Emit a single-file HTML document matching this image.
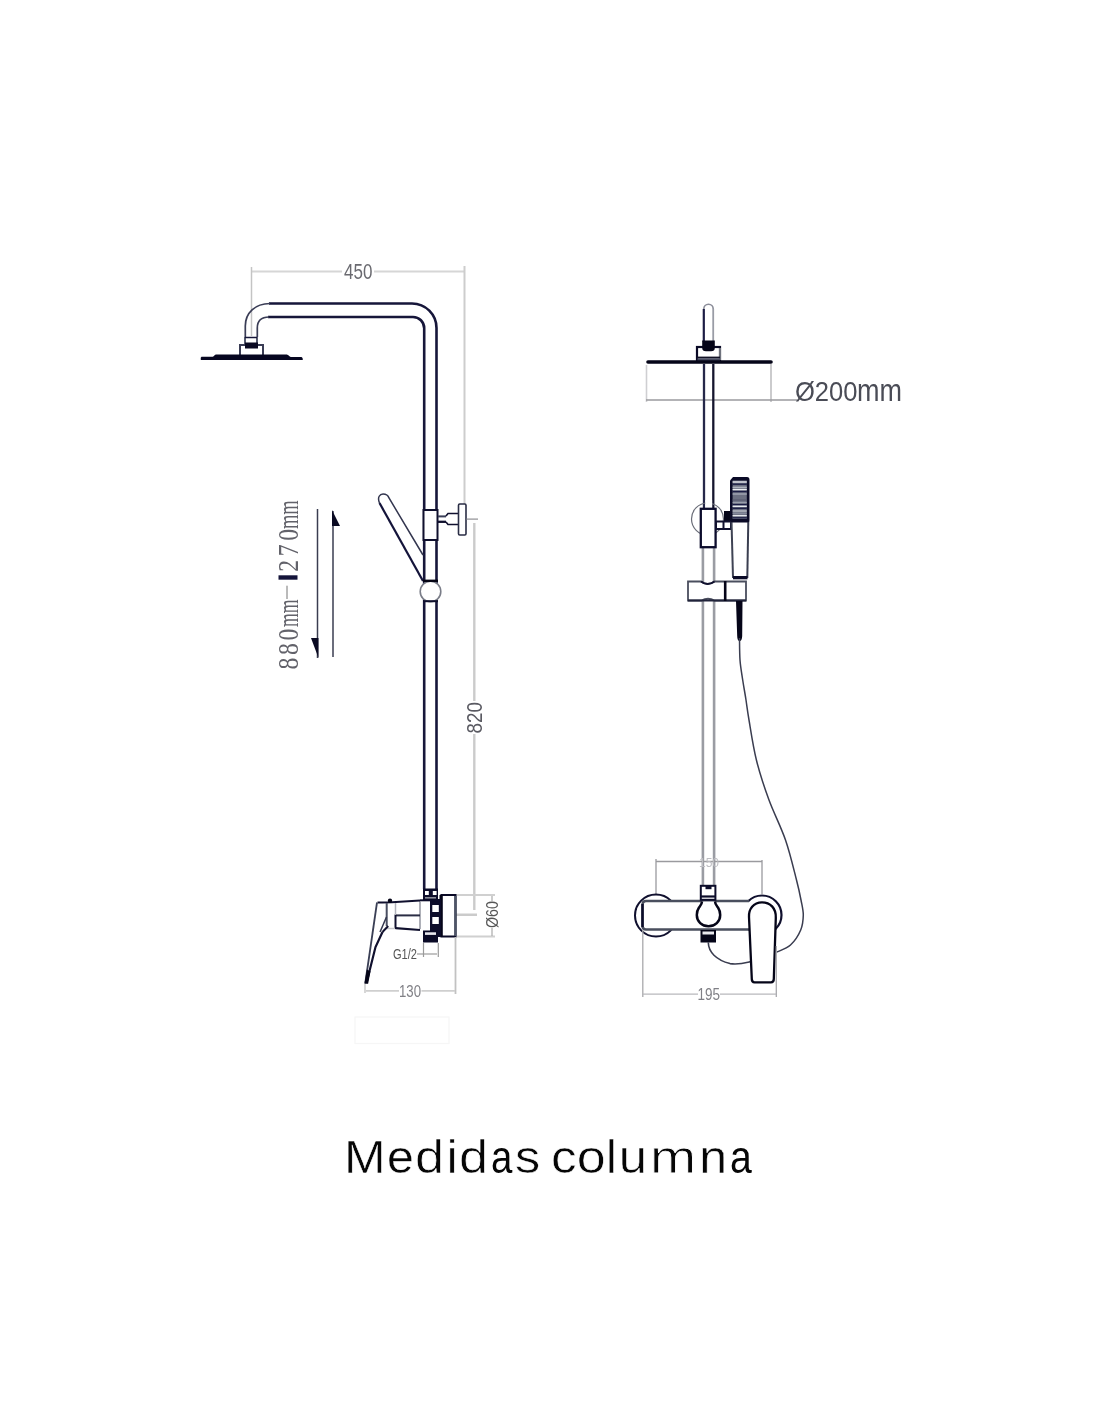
<!DOCTYPE html>
<html><head><meta charset="utf-8"><title>Medidas columna</title>
<style>
html,body{margin:0;padding:0;background:#fff;width:1100px;height:1422px;overflow:hidden;font-family:"Liberation Sans",sans-serif}
svg{position:absolute;left:0;top:0;display:block;will-change:transform}
</style></head>
<body>
<svg width="1100" height="1422" viewBox="0 0 1100 1422" fill="none">
<g fill="none" stroke-linecap="butt">
<!-- ===== LEFT VIEW ===== -->
<!-- 450 dimension -->
<g id="dim450" stroke="#d6d6d6" stroke-width="2">
  <line x1="251.5" y1="271.5" x2="342" y2="271.5"/>
  <line x1="374" y1="271.5" x2="464.5" y2="271.5"/>
  <line x1="251.5" y1="267" x2="251.5" y2="336" stroke="#c4c4c4" stroke-width="1.5"/>
  <line x1="464.5" y1="266" x2="464.5" y2="504" stroke="#cdcdcd"/>
</g>
<text x="344" y="279" font-family="Liberation Sans" font-size="21.4" fill="#6a6a70" textLength="28.4" lengthAdjust="spacingAndGlyphs">450</text>
<!-- pipe -->
<g id="pipe" stroke="#16163a" stroke-width="2.6">
  <path d="M269,303.5 L412,303.5 A24.5,24.5 0 0 1 436.5,328 L436.5,889"/>
  <path d="M268,317 L413,317 A11.2,11.2 0 0 1 424.2,328.2 L424.2,889"/>
  <path d="M245.3,337 L245.3,326 C245.3,313 255,303.5 270,303.5" stroke="#3a3d56" stroke-width="1.7"/>
  <path d="M257.3,337 L257.3,328 C257.3,321 261,317 269,317" stroke="#3a3d56" stroke-width="1.7"/>
</g>
<!-- head fitting -->
<g id="head" stroke="#16163a">
  <line x1="245" y1="337" x2="245" y2="344" stroke-width="1.8" stroke="#444a60"/>
  <line x1="257" y1="337" x2="257" y2="344" stroke-width="1.8" stroke="#444a60"/>
  <line x1="245" y1="337.5" x2="257" y2="337.5" stroke-width="1.5"/>
  <path d="M240,357 L240,345 L263,345 L263,357" stroke-width="2" stroke="#3a3d55"/>
  <rect x="245" y="342.5" width="13" height="6" fill="#0a0a22" stroke="none"/>
  <path d="M201.5,356.8 L212,356.8 C214,356.8 214,354.4 217,354.4 L286,354.4 C289,354.4 289,356.9 291.5,356.9 L301.5,356.9 Q303,357.5 302.8,360 L200.8,360 Q200.3,357 201.5,356.8 Z" fill="#060620" stroke="none"/>
</g>
<!-- slider + knob -->
<g id="slider" stroke="#10102e" stroke-width="2">
  <rect x="423.5" y="510" width="14" height="30" fill="#fff"/>
  <line x1="438" y1="516.4" x2="446" y2="516.4" stroke-width="2" stroke="#3a3e58"/>
  <line x1="438" y1="521.8" x2="446" y2="521.8" stroke-width="2.3"/>
  <path d="M446,516 L448,513.5 L458,513.5 M446,522 L448,524.5 L458,524.5" stroke-width="1.6"/>
  <rect x="458.5" y="504" width="7.5" height="31" rx="1.2" stroke-width="1.6" stroke="#2a2d45"/>
  <line x1="466.5" y1="519.1" x2="478" y2="519.1" stroke="#8e8e92" stroke-width="1.2"/>
</g>
<!-- hand shower handle -->
<g id="handle" stroke="#14143a">
  <path d="M423,581 L379.5,503" stroke-width="2.2"/>
  <path d="M379.5,503 C377,497 380,494 383,494 C386,494 388,495 389,498 L423,555" stroke-width="1.5" stroke="#33364f"/>
</g>
<!-- ball -->
<g id="ball">
  <circle cx="430.5" cy="591.5" r="10.3" stroke="#7a7d88" stroke-width="1.6" fill="#fff"/>
  <line x1="423" y1="580.8" x2="438" y2="580.8" stroke="#050515" stroke-width="2.4"/>
  <line x1="423" y1="601.2" x2="438" y2="601.2" stroke="#10102e" stroke-width="2"/>
</g>
<!-- 880-1270 arrows -->
<g id="arrows" stroke="#3a3d50" stroke-width="1.5">
  <line x1="317.5" y1="509" x2="317.5" y2="658"/>
  <line x1="333" y1="511" x2="333" y2="657"/>
  <path d="M311,638 L318.5,638 L318.5,658 Z" fill="#0a0a22" stroke="none"/>
  <path d="M332,510 L332,526 L340,526 Z" fill="#0a0a22" stroke="none"/>
</g>
<g font-family="Liberation Serif" font-size="29.6" fill="#62626a">
  <text transform="translate(297.5,669.5) rotate(-90) scale(0.8,1)" textLength="51" lengthAdjust="spacing">880</text>
  <text transform="translate(297.5,627) rotate(-90)" textLength="27.5" lengthAdjust="spacingAndGlyphs">mm</text>
  <text transform="translate(297.5,571.8) rotate(-90) scale(0.8,1)" textLength="53.5" lengthAdjust="spacing">270</text>
  <rect x="278.5" y="575.3" width="19" height="4.4" fill="#14143a"/>
  <text transform="translate(297.5,529) rotate(-90)" textLength="28.5" lengthAdjust="spacingAndGlyphs">mm</text>
</g>
<line x1="287" y1="585.7" x2="287" y2="599" stroke="#777" stroke-width="1"/>
<!-- 820 dimension -->
<g id="dim820" stroke="#cbcbcb" stroke-width="2.4">
  <line x1="474.3" y1="523" x2="474.3" y2="701"/>
  <line x1="474.3" y1="734" x2="474.3" y2="910"/>
  <line x1="441" y1="914.8" x2="477" y2="914.8"/>
</g>
<text transform="translate(482,733.5) rotate(-90)" font-family="Liberation Sans" font-size="21.4" fill="#5a5a62" textLength="31.5" lengthAdjust="spacingAndGlyphs">820</text>
<!-- ===== LEFT VALVE ===== -->
<g id="lvalve">
  <!-- top coupling block -->
  <rect x="423" y="888.5" width="15" height="11.5" fill="#0c0c2a"/>
  <rect x="425" y="891" width="3.8" height="4" fill="#fff"/>
  <rect x="432.8" y="891" width="3.8" height="4" fill="#fff"/>
  <rect x="425" y="897" width="11" height="1.6" fill="#8a8c98"/>
  <!-- right flange -->
  <path d="M441.5,895 L455.5,895 L455.5,936.5 L441.5,936.5 Z" stroke="#0a0a26" stroke-width="2.2" fill="#fff"/>
  <line x1="455.5" y1="896" x2="455.5" y2="936" stroke="#4d5566" stroke-width="2"/>
  <line x1="441" y1="895" x2="441" y2="937" stroke="#050518" stroke-width="3"/>
  <!-- dark column with windows -->
  <rect x="430" y="899" width="11" height="38" fill="#0c0c2a"/>
  <rect x="432.3" y="905" width="6.5" height="7" fill="#fff"/>
  <rect x="432.3" y="917" width="6.5" height="7" fill="#fff"/>
  <line x1="420" y1="900.3" x2="441" y2="900.3" stroke="#0c0c2a" stroke-width="2"/>
  <line x1="420" y1="901" x2="420" y2="929" stroke="#9a9ca6" stroke-width="1.6"/>
  <!-- bottom nut -->
  <rect x="423" y="930.5" width="15" height="12" fill="#0a0a26"/>
  <rect x="425" y="932.3" width="11" height="2.6" fill="#e8e8ee"/>
  <!-- handle body -->
  <path d="M377.5,902.5 L392,902.3 L420,900.5" stroke="#10102e" stroke-width="2"/>
  <path d="M395.5,928.2 L420,930" stroke="#10102e" stroke-width="2.2"/>
  <path d="M395.5,915.4 L420,915.4" stroke="#2a2d44" stroke-width="2"/>
  <line x1="395.5" y1="914.5" x2="395.5" y2="929" stroke="#10102e" stroke-width="2"/>
  <line x1="395.5" y1="903" x2="395.5" y2="915" stroke="#b0b2ba" stroke-width="1.5"/>
  <line x1="386.7" y1="903" x2="386.7" y2="926" stroke="#4a4f62" stroke-width="2"/>
  <line x1="387" y1="928.5" x2="395" y2="928.5" stroke="#c8c8cc" stroke-width="1.5"/>
  <circle cx="390" cy="900.8" r="2.2" fill="#050518"/>
  <!-- lever -->
  <line x1="377" y1="902.5" x2="365.3" y2="983" stroke="#3a3f55" stroke-width="1.8"/>
  <path d="M386.5,917 L380,932" stroke="#33374e" stroke-width="1.5"/>
  <path d="M388.2,926 L382.5,932" stroke="#10102e" stroke-width="2"/>
  <path d="M382.5,932 L375.5,947 L366.5,983" stroke="#10102e" stroke-width="2.2"/>
  <path d="M367.5,970 L365.3,983 L367.5,983 L369.8,971" fill="#050518" stroke="#050518" stroke-width="1.5"/>
</g>
<!-- G1/2 -->
<g stroke="#9a9a9a" stroke-width="1.2">
  <line x1="423.5" y1="943" x2="423.5" y2="957"/>
  <line x1="438.3" y1="943" x2="438.3" y2="957"/>
  <line x1="417" y1="954" x2="437" y2="954"/>
</g>
<text x="393" y="959" font-family="Liberation Sans" font-size="14" fill="#555" textLength="24" lengthAdjust="spacingAndGlyphs">G1/2</text>
<!-- 130 -->
<g stroke="#cfcfcf" stroke-width="1.8">
  <line x1="455.5" y1="937" x2="455.5" y2="994" stroke="#c2c2c2"/>
  <line x1="365" y1="984" x2="365" y2="993" stroke="#c2c2c2" stroke-width="1.3"/>
  <line x1="366" y1="990.8" x2="399" y2="990.8"/>
  <line x1="421.5" y1="990.8" x2="455" y2="990.8"/>
</g>
<text x="399" y="996.5" font-family="Liberation Sans" font-size="17" fill="#808086" textLength="22" lengthAdjust="spacingAndGlyphs">130</text>
<!-- O60 -->
<g stroke="#d0d0d0" stroke-width="2">
  <line x1="457" y1="895" x2="495" y2="895"/>
  <line x1="457" y1="936.5" x2="495" y2="936.5"/>
  <line x1="492" y1="896" x2="492" y2="901" stroke-width="1.2" stroke="#aaa"/>
  <line x1="492" y1="928" x2="492" y2="936" stroke-width="1.2" stroke="#aaa"/>
</g>
<text transform="translate(498,928) rotate(-90)" font-family="Liberation Sans" font-size="16" fill="#555" textLength="27" lengthAdjust="spacingAndGlyphs">Ø60</text>
<!-- faint artifacts -->
<rect x="355" y="1017" width="94" height="26.5" stroke="#f6f6f6" stroke-width="1.2" fill="none"/>
<!-- ===== RIGHT VIEW ===== -->
<g id="rtop">
  <path d="M703.8,309 A4.7,4.7 0 0 1 713.2,309" stroke="#8a8c98" stroke-width="1.6"/>
  <line x1="703.8" y1="309" x2="703.8" y2="342" stroke="#1c1c44" stroke-width="2.2"/>
  <line x1="713.2" y1="309" x2="713.2" y2="342" stroke="#9a9ca6" stroke-width="1.8"/>
  <rect x="697" y="347" width="23" height="13" stroke="#0a0a26" stroke-width="2.2" fill="#fff"/>
  <line x1="720" y1="348" x2="720" y2="360" stroke="#70737e" stroke-width="2"/>
  <path d="M702.2,340.5 L714.8,340.5 L714.8,348 Q714.8,351.3 711,351.3 L706,351.3 Q702.2,351.3 702.2,348 Z" fill="#050518"/>
  <line x1="697" y1="357.4" x2="720" y2="357.4" stroke="#121226" stroke-width="1.6"/>
  <rect x="697.5" y="358.2" width="22.5" height="3.4" fill="#4a4d62"/>
  <path d="M648,362 L771,362" stroke="#050518" stroke-width="3.6" stroke-linecap="round"/>
</g>
<g id="dim200">
  <line x1="646.5" y1="365" x2="646.5" y2="402" stroke="#cfcfd2" stroke-width="1.6"/>
  <line x1="771" y1="364" x2="771" y2="402" stroke="#a8a8ac" stroke-width="1.2"/>
  <line x1="646" y1="400" x2="797" y2="400" stroke="#9a9a9e" stroke-width="1.3"/>
</g>
<g font-family="Liberation Sans" fill="#4a4c56">
<text x="795" y="400.7" font-size="27.9" textLength="62.5" lengthAdjust="spacingAndGlyphs">Ø200</text>
<text transform="translate(857,400.7) scale(1,1.12)" font-size="27.9" textLength="45" lengthAdjust="spacingAndGlyphs">mm</text>
</g>
<!-- column -->
<g id="rcol">
  <line x1="704" y1="364" x2="704" y2="509" stroke="#26284a" stroke-width="2.3"/>
  <line x1="713.3" y1="364" x2="713.3" y2="509" stroke="#15152e" stroke-width="2.3"/>
  <line x1="702.9" y1="547" x2="702.9" y2="886" stroke="#9a9ca3" stroke-width="2.6"/>
  <line x1="714.1" y1="547" x2="714.1" y2="886" stroke="#9a9ca3" stroke-width="2.6"/>
  <circle cx="707.5" cy="519" r="16" stroke="#6a6d78" stroke-width="1.2" fill="none"/>
  <rect x="705.3" y="500" width="6.8" height="9" fill="#fff"/>
  <rect x="700.8" y="508.8" width="14.8" height="38.4" stroke="#0c0c2c" stroke-width="2.3" fill="#fff"/>
</g>
<g id="hshower">
  <rect x="724" y="511" width="8.5" height="10.5" fill="#050518"/>
  <rect x="716" y="521.5" width="15" height="7.5" stroke="#10102e" stroke-width="2" fill="#fff"/>
  <line x1="723.5" y1="521.5" x2="723.5" y2="529" stroke="#10102e" stroke-width="2"/>
  <path d="M731.5,521 L733,578" stroke="#3f4354" stroke-width="2"/>
  <path d="M748.3,521 L747.3,578" stroke="#3a3e50" stroke-width="2"/>
  <rect x="733" y="576" width="14.5" height="3.3" fill="#0a0a26"/>
  <path d="M733,477 L747,477 Q749.5,477 749.5,480 L749.5,520 Q749.5,522.5 747,522.5 L732.5,522.5 Q730,522.5 730,520 L730,480.5 Z" fill="#0a0a26"/>
  <rect x="732.6" y="480.5" width="14.2" height="38.5" fill="#6c7082"/>
  <g stroke-width="1.3">
    <line x1="732.6" y1="482" x2="746.8" y2="482" stroke="#eef0f4"/>
    <line x1="732.6" y1="484.2" x2="746.8" y2="484.2" stroke="#1a1c44"/>
    <line x1="732.6" y1="487.3" x2="746.8" y2="487.3" stroke="#b4b8c2"/>
    <line x1="732.6" y1="489.5" x2="746.8" y2="489.5" stroke="#eef0f4"/>
    <line x1="732.6" y1="491.6" x2="746.8" y2="491.6" stroke="#1a1c44"/>
    <line x1="732.6" y1="494" x2="746.8" y2="494" stroke="#a8acb8"/>
    <line x1="732.6" y1="500" x2="746.8" y2="500" stroke="#5a5e72"/>
    <line x1="732.6" y1="502.5" x2="746.8" y2="502.5" stroke="#9a9eac"/>
    <line x1="732.6" y1="504.6" x2="746.8" y2="504.6" stroke="#1a1c44"/>
    <line x1="732.6" y1="506.3" x2="746.8" y2="506.3" stroke="#eef0f4"/>
    <line x1="732.6" y1="508.3" x2="746.8" y2="508.3" stroke="#1a1c44"/>
    <line x1="732.6" y1="511" x2="746.8" y2="511" stroke="#c0c4cc"/>
    <line x1="732.6" y1="513.2" x2="746.8" y2="513.2" stroke="#8a8ea0"/>
    <line x1="732.6" y1="515.6" x2="746.8" y2="515.6" stroke="#e6e8ee"/>
    <line x1="732.6" y1="517.8" x2="746.8" y2="517.8" stroke="#1a1c44"/>
  </g>
</g>
<g id="holder">
  <path d="M688,581.5 L701,581.5 Q707.5,586.5 714.5,581.5 L746,581.5 L746,600.5 L714.5,600.5 Q708,597 701.5,600.5 L688,600.5 Z" stroke="#4a4e5e" stroke-width="1.8" fill="#fff"/>
  <path d="M701,581.5 Q707.5,586.5 714.5,581.5" stroke="#10102e" stroke-width="2"/>
  <path d="M688,600.5 L746,600.5" stroke="#20233a" stroke-width="1.8"/>
  <line x1="725.2" y1="581" x2="725.2" y2="601" stroke="#050518" stroke-width="2.6"/>
  <path d="M736,601 L742.5,601 L742.2,636 Q742,641 739.6,641 Q737.3,641 737.2,636 Z" fill="#050518"/>
</g>
<!-- hose -->
<path d="M739.5,638 C739.6,641.7 739.5,653.0 740,660 C740.5,667.0 741.7,673.3 742.7,680 C743.7,686.7 745.0,693.3 746,700 C747.0,706.7 747.3,710.0 749,720 C750.7,730.0 753.1,746.7 756.4,760 C759.7,773.3 764.1,786.7 769,800 C773.9,813.3 780.9,826.7 785.5,840 C790.1,853.3 793.9,870.0 796.5,880 C799.1,890.0 799.9,894.2 801,900 C802.1,905.8 803.3,910.0 803.3,915 C803.2,920.0 802.8,925.0 800.7,930 C798.6,935.0 794.6,941.2 790.5,945 C786.4,948.8 778.4,951.2 776,952.5" stroke="#3a3d50" stroke-width="1.5"/>
<path d="M708.3,942.6 C708.5,952 716,960 730,963.6 C738,965 745,963 750.2,961.7" stroke="#3a3d50" stroke-width="1.6"/>
<!-- 150 dim -->
<g stroke="#9a9a9e" stroke-width="1.3">
  <line x1="656" y1="859" x2="656" y2="894"/>
  <line x1="762" y1="860" x2="762" y2="894"/>
  <line x1="656" y1="861.5" x2="762" y2="861.5"/>
</g>
<text x="699" y="866.5" font-family="Liberation Sans" font-size="12" fill="#bdbdc2" textLength="20" lengthAdjust="spacingAndGlyphs">150</text>
<!-- right valve -->
<g id="rvalve">
  <circle cx="656" cy="915.5" r="21" stroke="#10102e" stroke-width="2" fill="none"/>
  <circle cx="762" cy="915" r="19.5" stroke="#10102e" stroke-width="2.2" fill="none"/>
  <path d="M749,901 L646,901 Q642.5,901 642.5,905 L642.5,925.5 Q642.5,929.5 646,929.5 L749,929.5" stroke="#4a4f5e" stroke-width="2.6" fill="#fff"/>
  <line x1="642.5" y1="904" x2="642.5" y2="927" stroke="#0c0c2a" stroke-width="2.4"/>
  <path d="M702,901.5 C702,904 700.5,905.5 699,907.5 C697,910.5 696.8,912.5 696.8,915 C696.8,921.5 702,926.3 708.5,926.3 C715,926.3 720.2,921.5 720.2,915 C720.2,912.5 720,910.5 718,907.5 C716.5,905.5 715,904 715,901.5" stroke="#050518" stroke-width="2.5" fill="#fff"/>
  <rect x="700.8" y="885.8" width="14.6" height="14" stroke="#0c0c2a" stroke-width="2" fill="#fff"/>
  <rect x="705.5" y="886" width="6" height="3.2" fill="#0c0c2a"/>
  <line x1="701" y1="896.5" x2="715.5" y2="896.5" stroke="#0c0c2a" stroke-width="2.2"/>
  <rect x="700.5" y="930" width="15.5" height="12.5" fill="#050518"/>
  <rect x="702.5" y="931.5" width="11.5" height="3" fill="#e9e9ee"/>
  <!-- lever -->
  <path d="M754.5,982.3 L771,982.3 Q773.8,982.3 773.8,979 L775.8,918 C776.3,908 770,902.3 762,902.3 C753.5,902.3 748.5,909 749,917 L751.8,979 Q751.8,982.3 754.5,982.3 Z" stroke="#050518" stroke-width="2.3" fill="#fff"/>
</g>
<!-- 195 dim -->
<g stroke="#a8a8ac" stroke-width="1.3">
  <line x1="642.8" y1="930" x2="642.8" y2="997"/>
  <line x1="776.3" y1="946" x2="776.3" y2="997"/>
  <line x1="643" y1="994.2" x2="698" y2="994.2" stroke="#b8b8bc"/>
  <line x1="720" y1="994.2" x2="776" y2="994.2" stroke="#b8b8bc"/>
</g>
<text x="697.5" y="1000.3" font-family="Liberation Sans" font-size="17" fill="#808086" textLength="22.5" lengthAdjust="spacingAndGlyphs">195</text>
</g>
<g font-family="Liberation Sans" font-size="48" fill="#060606" stroke="#fff">
<text transform="translate(343.90,1173.3) scale(1.039,0.975)" stroke-width="0.49">M</text>
<text transform="translate(387.00,1173.3) scale(1.002,0.975)" stroke-width="0.36">e</text>
<text transform="translate(415.00,1173.3) scale(1.091,0.975)" stroke-width="0.66">d</text>
<text transform="translate(446.70,1173.3) scale(1.000,0.975)" stroke-width="0.40">i</text>
<text transform="translate(459.00,1173.3) scale(1.091,0.975)" stroke-width="0.66">d</text>
<text transform="translate(491.00,1173.3) scale(0.799,0.975)" stroke-width="0.00">a</text>
<text transform="translate(515.00,1173.3) scale(1.050,0.975)" stroke-width="0.53">s</text>
<text transform="translate(551.10,1173.3) scale(1.070,0.975)" stroke-width="0.59">c</text>
<text transform="translate(576.70,1173.3) scale(1.084,0.975)" stroke-width="0.64">o</text>
<text transform="translate(606.05,1173.3) scale(1.000,0.975)" stroke-width="0.40">l</text>
<text transform="translate(618.80,1173.3) scale(1.058,0.975)" stroke-width="0.55">u</text>
<text transform="translate(650.10,1173.3) scale(1.154,0.975)" stroke-width="0.84">m</text>
<text transform="translate(699.20,1173.3) scale(1.044,0.975)" stroke-width="0.50">n</text>
<text transform="translate(730.00,1173.3) scale(0.815,0.975)" stroke-width="0.00">a</text>
</g>
</svg>

</body></html>
